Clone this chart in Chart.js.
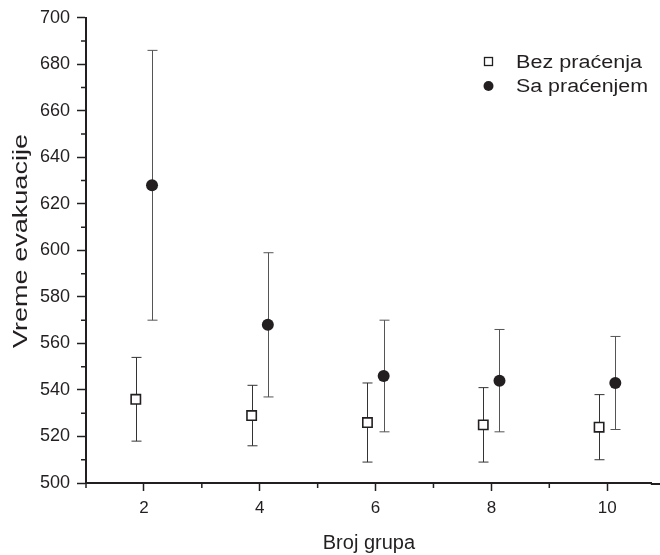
<!DOCTYPE html>
<html>
<head>
<meta charset="utf-8">
<script src="https://cdn.jsdelivr.net/npm/chart.js@4/dist/chart.umd.min.js"></script>
<style>
  html, body { margin: 0; padding: 0; background: #fff; overflow: hidden; }
  #wrap { width: 660px; height: 555px; }
</style>
</head>
<body>
<div id="wrap"><canvas id="scatterChart"></canvas></div>
<script>
// data
const grupe = [2, 4, 6, 8, 10];
const bezPracenja = [536, 529, 526, 525, 524];
const bezGreska = [18, 13, 17, 16, 14];
const saPracenjem = [628, 568, 546, 544, 543];
const saGreska = [58, 31, 24, 22, 20];
const xTicks = [2, 4, 6, 8, 10];
const yTicks = [500, 520, 540, 560, 580, 600, 620, 640, 660, 680, 700];

const shift = 0.14;
const ink = '#231f20';
const font = "'Liberation Sans', Arial, sans-serif";

// error bars, drawn under the markers
const errorBars = {
  id: 'errorBars',
  beforeDatasetsDraw(chart) {
    const { ctx, scales: { x, y } } = chart;
    ctx.save();
    ctx.lineWidth = 1;
    chart.data.datasets.forEach(ds => {
      ctx.strokeStyle = ds.barColor;
      ds.data.forEach((p, i) => {
        const px = Math.round(x.getPixelForValue(p.x)) + 0.5;
        const top = y.getPixelForValue(p.y + ds.err[i]);
        const bot = y.getPixelForValue(p.y - ds.err[i]);
        ctx.beginPath();
        ctx.moveTo(px, top); ctx.lineTo(px, bot);
        ctx.moveTo(px - 5, top); ctx.lineTo(px + 5, top);
        ctx.moveTo(px - 5, bot); ctx.lineTo(px + 5, bot);
        ctx.stroke();
      });
    });
    ctx.restore();
  }
};

// text drawn a bit wider than the font, as in the original figure
function wideText(ctx, txt, x, y, width) {
  const w = ctx.measureText(txt).width;
  ctx.save();
  ctx.translate(x, y);
  ctx.scale(width / w, 1);
  ctx.fillText(txt, 0, 0);
  ctx.restore();
}

// minor ticks, y title and legend
const extras = {
  id: 'extras',
  afterDraw(chart) {
    const { ctx, scales: { x, y }, chartArea } = chart;
    ctx.save();
    ctx.strokeStyle = ink;
    ctx.lineWidth = 1.5;
    ctx.beginPath();
    for (let v = 1; v <= 11; v += 2) {
      const px = x.getPixelForValue(v);
      if (px > chartArea.right) continue;
      ctx.moveTo(px, chartArea.bottom); ctx.lineTo(px, chartArea.bottom + 5);
    }
    for (let v = 510; v < 700; v += 20) {
      const py = y.getPixelForValue(v);
      ctx.moveTo(chartArea.left, py); ctx.lineTo(chartArea.left - 5, py);
    }
    ctx.stroke();

    // the bottom axis runs on to the right edge
    ctx.lineWidth = 2;
    ctx.beginPath();
    ctx.moveTo(chartArea.right - 1, chartArea.bottom + 1);
    ctx.lineTo(chart.width, chartArea.bottom + 1);
    ctx.stroke();

    // y axis title
    ctx.fillStyle = ink;
    ctx.font = '21px ' + font;
    ctx.textAlign = 'center';
    ctx.textBaseline = 'middle';
    ctx.save();
    ctx.translate(21, 241);
    ctx.rotate(-Math.PI / 2);
    wideText(ctx, 'Vreme evakuacije', 0, 0, 214);
    ctx.restore();

    // legend
    ctx.font = '18px ' + font;
    ctx.textAlign = 'left';
    const widths = [126, 132];
    chart.data.datasets.forEach((ds, i) => {
      const ly = 62 + i * 24;
      if (ds.pointStyle === 'rect') {
        ctx.lineWidth = 1.3;
        ctx.strokeRect(484.5, ly - 4.5, 8, 8);
      } else {
        ctx.beginPath();
        ctx.arc(488.5, ly, 5, 0, Math.PI * 2);
        ctx.fill();
      }
      wideText(ctx, ds.label, 516, ly + 1, widths[i]);
    });
    ctx.restore();
  }
};

const config = {
  type: 'scatter',
  data: {
    datasets: [
      {
        label: 'Bez praćenja',
        data: grupe.map((g, i) => ({ x: g - shift, y: bezPracenja[i] })),
        err: bezGreska,
        barColor: '#333',
        pointStyle: 'rect',
        pointRadius: 6.6,
        pointHoverRadius: 6.6,
        pointBackgroundColor: '#fff',
        pointBorderColor: ink,
        pointBorderWidth: 1.6
      },
      {
        label: 'Sa praćenjem',
        data: grupe.map((g, i) => ({ x: g + shift, y: saPracenjem[i] })),
        err: saGreska,
        barColor: '#555',
        pointStyle: 'circle',
        pointRadius: 6,
        pointHoverRadius: 6,
        pointBackgroundColor: ink,
        pointBorderColor: ink,
        pointBorderWidth: 0
      }
    ]
  },
  options: {
    responsive: true,
    maintainAspectRatio: false,
    animation: false,
    layout: { padding: { top: 13, right: 0, left: 0, bottom: 0 } },
    plugins: {
      legend: { display: false },
      tooltip: { enabled: false }
    },
    scales: {
      x: {
        type: 'linear',
        min: 1,
        max: 10.77,
        afterBuildTicks: s => { s.ticks = xTicks.map(v => ({ value: v })); },
        afterFit: s => { s.height = 72; s.paddingLeft = 0; s.paddingRight = 0; },
        border: { display: true, color: ink, width: 2 },
        grid: { drawOnChartArea: false, drawTicks: true, tickLength: 8, tickColor: ink, tickWidth: 1.5 },
        ticks: { color: ink, font: { size: 17, family: font }, padding: 7 },
        title: { display: true, text: 'Broj grupa', color: ink, font: { size: 20, family: font }, padding: { top: 0, bottom: 0 } }
      },
      y: {
        min: 500,
        max: 700,
        afterBuildTicks: s => { s.ticks = yTicks.map(v => ({ value: v })); },
        afterFit: s => { s.width = 86; },
        border: { display: true, color: ink, width: 2 },
        grid: { drawOnChartArea: false, drawTicks: true, tickLength: 9, tickColor: ink, tickWidth: 1.5 },
        ticks: { color: ink, font: { size: 18, family: font }, padding: 7 },
        title: { display: false }
      }
    }
  },
  plugins: [errorBars, extras]
};

const scatterChart = new Chart(document.getElementById('scatterChart'), config);
</script>
</body>
</html>
